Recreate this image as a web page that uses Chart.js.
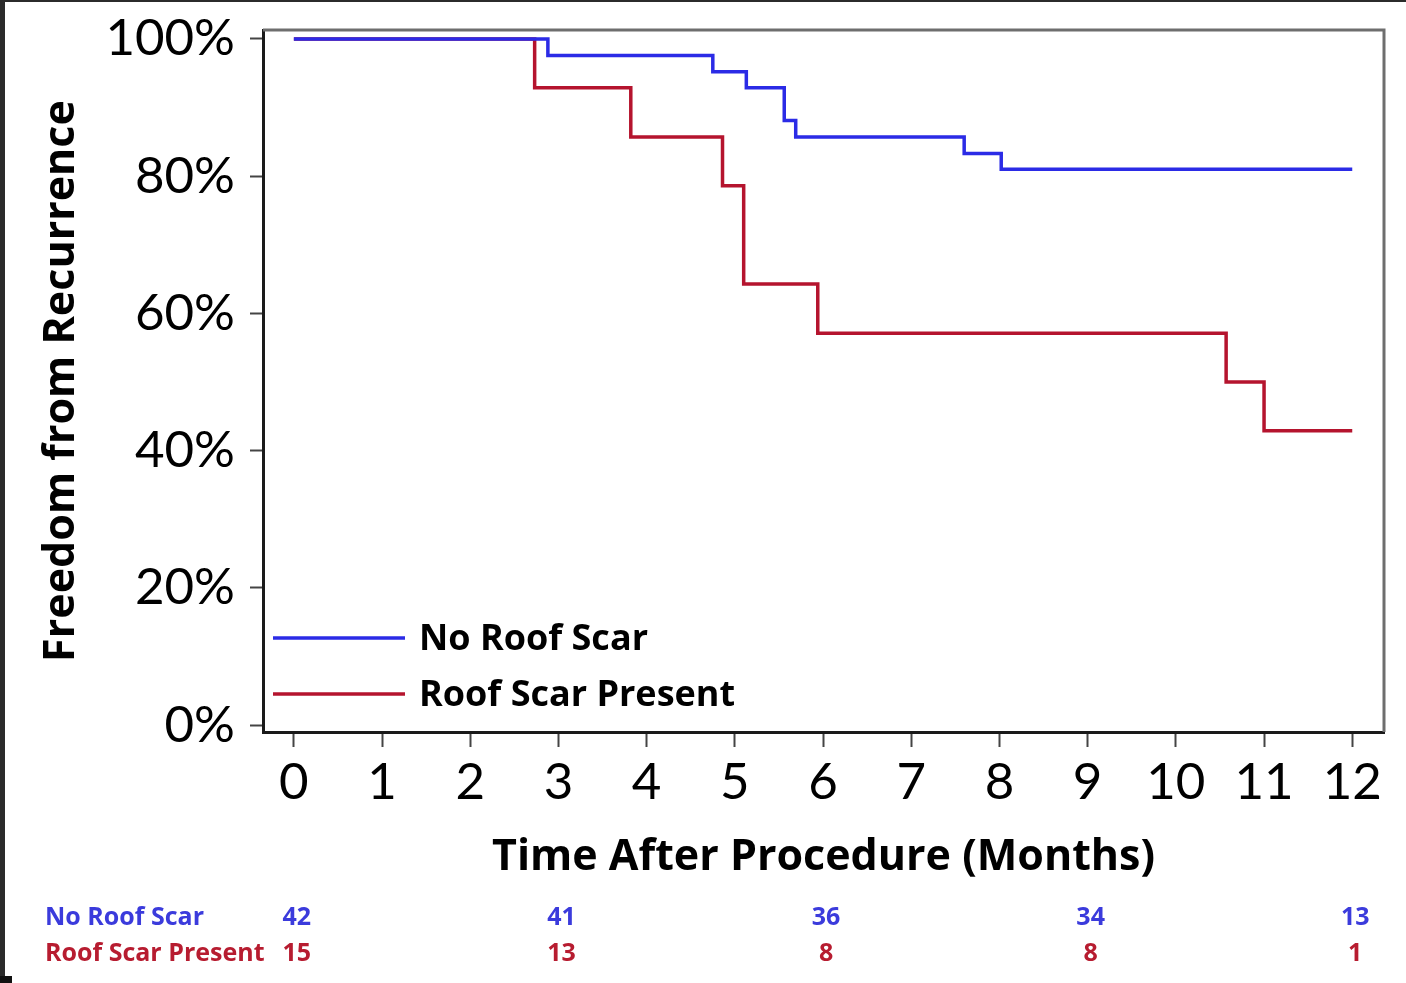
<!DOCTYPE html>
<html>
<head>
<meta charset="utf-8">
<script src="https://cdn.jsdelivr.net/npm/chart.js@4.4.1/dist/chart.umd.min.js"></script>
<style>
  html, body { margin: 0; padding: 0; background: #2b2b2b; width: 1406px; height: 983px; overflow: hidden; }
  #paper { position: absolute; left: 5px; top: 2px; width: 1401px; height: 981px; background: #ffffff; }
  #corner { position: absolute; left: 0; top: 976px; width: 12px; height: 7px; background: #111; }
  #c { position: absolute; left: 0; top: 0; }
</style>
</head>
<body>
<div id="paper"></div>
<div id="corner"></div>
<canvas id="c" width="1406" height="983"></canvas>
<script>
// ---- data ----
const noScarTimes = [0, 2.88, 4.75, 5.13, 5.56, 5.69, 7.60, 8.02, 12];
const noScarSurv  = [100, 97.6, 95.2, 92.9, 88.1, 85.7, 83.3, 81.0, 81.0];
const scarTimes   = [0, 2.73, 3.82, 4.86, 5.10, 5.94, 10.57, 11.0, 12];
const scarSurv    = [100, 92.9, 85.7, 78.6, 64.3, 57.1, 50.0, 42.9, 42.9];
const seriesLabels = ['No Roof Scar', 'Roof Scar Present'];
const xTickValues = [0,1,2,3,4,5,6,7,8,9,10,11,12];
const yTickValues = [0,20,40,60,80,100];
const riskTimes   = [0, 3, 6, 9, 12];
const riskNoScar  = [42, 41, 36, 34, 13];
const riskScar    = [15, 13, 8, 8, 1];

const BLUE = '#2b2be6';
const RED = '#b5142e';
const TBLUE = '#3b3bdc';
const TRED = '#b71c30';
const FONT = 'Lato, "Open Sans", sans-serif';
const TFONT = '"Open Sans", Lato, sans-serif';

function pts(xs, ys) { return xs.map((x, i) => ({x: x, y: ys[i]})); }

const extras = {
  id: 'extras',
  afterDraw(chart) {
    const {ctx, chartArea: a, scales} = chart;
    ctx.save();
    // top & right frame (gray)
    ctx.strokeStyle = '#6e6e6e';
    ctx.lineWidth = 3;
    ctx.beginPath();
    ctx.moveTo(a.left, a.top);
    ctx.lineTo(a.right, a.top);
    ctx.lineTo(a.right, a.bottom);
    ctx.stroke();

    // legend inside plot
    const ds = chart.data.datasets;
    const legY = [a.bottom - 94, a.bottom - 38];
    ctx.font = 'bold 36px ' + TFONT;
    ctx.textBaseline = 'middle';
    ctx.textAlign = 'left';
    ds.forEach((d, i) => {
      ctx.strokeStyle = d.borderColor;
      ctx.lineWidth = 3.5;
      ctx.beginPath();
      ctx.moveTo(a.left + 10, legY[i]);
      ctx.lineTo(a.left + 142, legY[i]);
      ctx.stroke();
      ctx.fillStyle = '#000';
      ctx.fillText(d.label, a.left + 156, legY[i] + 2);
    });

    // number at risk table
    const x = scales.x;
    ctx.font = 'bold 25px ' + TFONT;
    ctx.textBaseline = 'middle';
    const rows = [
      {label: seriesLabels[0], vals: riskNoScar, color: TBLUE, y: 918},
      {label: seriesLabels[1], vals: riskScar, color: TRED, y: 954}
    ];
    rows.forEach(r => {
      ctx.fillStyle = r.color;
      ctx.textAlign = 'left';
      ctx.fillText(r.label, 45, r.y);
      ctx.textAlign = 'center';
      r.vals.forEach((v, i) => {
        ctx.fillText(String(v), x.getPixelForValue(riskTimes[i]) + 3, r.y);
      });
    });
    ctx.restore();
  }
};

new Chart(document.getElementById('c'), {
  type: 'line',
  data: {
    datasets: [
      { label: seriesLabels[0], data: pts(noScarTimes, noScarSurv), borderColor: BLUE, borderWidth: 3.5, stepped: 'before', pointRadius: 0, fill: false },
      { label: seriesLabels[1], data: pts(scarTimes, scarSurv), borderColor: RED, borderWidth: 3.5, stepped: 'before', pointRadius: 0, fill: false }
    ]
  },
  options: {
    responsive: false,
    animation: false,
    events: [],
    layout: { padding: { left: 0, top: 30, right: 22, bottom: 91 } },
    plugins: { legend: { display: false }, tooltip: { enabled: false } },
    scales: {
      x: {
        type: 'linear',
        min: -0.35, max: 12.36,
        afterBuildTicks(s) { s.ticks = xTickValues.map(v => ({value: v})); },
        afterFit(s) { s.height = 160; s.paddingLeft = 0; s.paddingRight = 0; },
        grid: { drawOnChartArea: false, drawTicks: true, tickLength: 15, tickWidth: 2, tickColor: '#444' },
        border: { display: true, color: '#1a1a1a', width: 3 },
        ticks: { color: '#000', font: { family: FONT, size: 51 }, padding: 5, maxRotation: 0, autoSkip: false, callback: v => String(v) },
        title: { display: true, text: 'Time After Procedure (Months)', color: '#000', font: { family: TFONT, size: 43, weight: 'bold' }, padding: { top: 0, bottom: 8 } }
      },
      y: {
        type: 'linear',
        min: -1, max: 101.3,
        afterBuildTicks(s) { s.ticks = yTickValues.map(v => ({value: v})); },
        afterFit(s) { s.width = 263; s.paddingTop = 0; s.paddingBottom = 0; },
        grid: { drawOnChartArea: false, drawTicks: true, tickLength: 13, tickWidth: 2, tickColor: '#444' },
        border: { display: true, color: '#1a1a1a', width: 3 },
        ticks: { color: '#000', font: { family: FONT, size: 51 }, padding: 15, callback: v => v + '%' },
        title: { display: true, text: 'Freedom from Recurrence', color: '#000', font: { family: TFONT, size: 43, weight: 'bold' }, padding: { top: 36, bottom: 0 } }
      }
    }
  },
  plugins: [extras]
});
</script>
</body>
</html>
